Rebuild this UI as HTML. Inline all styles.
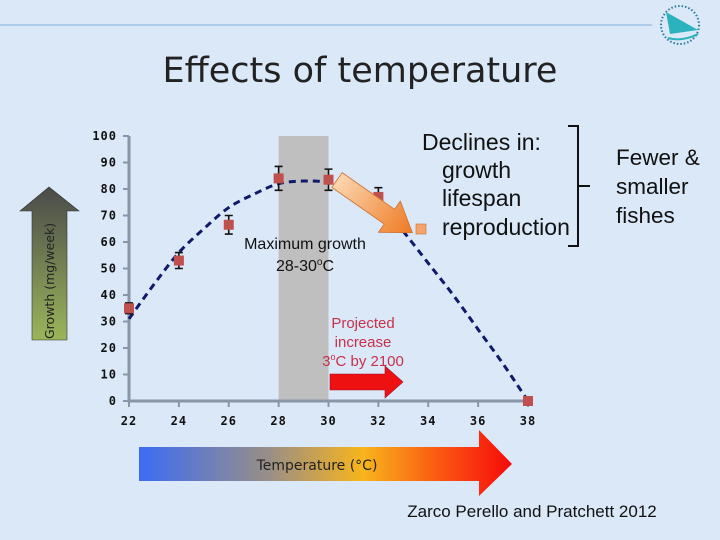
<!DOCTYPE html>
<html><head><meta charset="utf-8"><style>
body{margin:0;width:720px;height:540px;overflow:hidden;background:#dae8f8;font-family:"Liberation Sans",sans-serif}
svg{display:block}
</style></head><body>
<svg width="720" height="540" xmlns="http://www.w3.org/2000/svg">
<defs>
<linearGradient id="tg" x1="0" x2="1" y1="0" y2="0">
<stop offset="0" stop-color="#3b6cf5"/><stop offset="0.35" stop-color="#9a8f86"/><stop offset="0.6" stop-color="#f7b51c"/><stop offset="0.8" stop-color="#fb5a12"/><stop offset="1" stop-color="#f60a0a"/></linearGradient>
<linearGradient id="gg" x1="0" x2="0" y1="0" y2="1">
<stop offset="0" stop-color="#4a4a4a"/><stop offset="1" stop-color="#9bb55a"/></linearGradient>
<linearGradient id="og" x1="0" x2="1" y1="0" y2="0">
<stop offset="0" stop-color="#fcd6b0"/><stop offset="1" stop-color="#ee7a22"/></linearGradient>
</defs>
<line x1="0" y1="25" x2="652" y2="25" stroke="#9ec2e4" stroke-width="1.5"/>
<g>
<circle cx="680" cy="25" r="19" fill="none" stroke="#2a7a9a" stroke-width="2" stroke-dasharray="1.5 2"/>
<polygon points="666,12 698,30 670,34" fill="#2bb3bd"/>
<path d="M668 38 Q682 42 698 34" stroke="#2bb3bd" stroke-width="2" fill="none"/>
</g>
<text x="360" y="82" font-size="35" text-anchor="middle" fill="#222" font-family="DejaVu Sans,sans-serif">Effects of temperature</text>
<g id="plot"></g>
<g>
<polygon points="49,187 79,211 67,211 67,340 32,340 32,211 20,211" fill="url(#gg)" stroke="#333" stroke-width="0.6"/>
<text transform="translate(54,339) rotate(-90)" font-size="12.5" fill="#222" font-family="DejaVu Sans,sans-serif">Growth (mg/week)</text>
</g>
<g>
<polygon points="139,447 479,447 479,430 512,464 479,496 479,481 139,481" fill="url(#tg)"/>
<text x="317" y="470" font-size="14" text-anchor="middle" fill="#222" font-family="DejaVu Sans,sans-serif">Temperature (°C)</text>
</g>
<g font-size="23" fill="#111">
<text x="422" y="150">Declines in:</text>
<text x="442" y="178">growth</text>
<text x="442" y="206">lifespan</text>
<text x="442" y="235">reproduction</text>
</g>
<path d="M568 126 L578 126 L578 246 L568 246 M578 186 L590 186" fill="none" stroke="#111" stroke-width="2"/>
<g font-size="22.5" fill="#111">
<text x="616" y="165">Fewer &amp;</text>
<text x="616" y="194">smaller</text>
<text x="616" y="223">fishes</text>
</g>
<g font-size="16" fill="#111" text-anchor="middle">
<text x="305" y="249">Maximum growth</text>
<text x="305" y="271">28-30<tspan font-size="10" dy="-6">o</tspan><tspan dy="6">C</tspan></text>
</g>
<g font-size="15" fill="#c8304a" text-anchor="middle">
<text x="363" y="328">Projected</text>
<text x="363" y="347">increase</text>
<text x="363" y="366">3<tspan font-size="9" dy="-6">o</tspan><tspan dy="6">C by 2100</tspan></text>
</g>
<polygon points="330,374 385,374 385,366 403,382 385,398 385,390 330,390" fill="#ee1111" stroke="#a01030" stroke-width="0.6"/>
<g transform="translate(337,180) rotate(35)">
<polygon points="0,-9 64,-9 64,-19 92,0 64,19 64,9 0,9" fill="url(#og)" stroke="#d07030" stroke-width="0.8"/>
</g>
<rect x="416" y="224" width="10" height="10" fill="#f4a46a" stroke="#d07030" stroke-width="0.6"/>
<text x="532" y="517" font-size="17" text-anchor="middle" fill="#111">Zarco Perello and Pratchett 2012</text>
</svg>
<script>
const temps=[22,24,26,28,30,32,38];
const growth=[35,53,66.5,84,83.5,77,0];
const errs=[2,3,3.5,4.5,4,3.5,0];
const fitT=[22,23,24,25,26,27,28,29,30,31,32,33,34,35,36,37,38];
const fitG=[31,44,56,65,73,78,82,83,82.5,80,75,64,52,40,27,14,0];
const yTicks=[0,10,20,30,40,50,60,70,80,90,100];
const xTicks=[22,24,26,28,30,32,34,36,38];
const band=[28,30];
const NS='http://www.w3.org/2000/svg';
const X=t=>129+(t-22)*(399/16);
const Y=v=>401-v*2.65;
const g=document.getElementById('plot');
function mk(tag,attrs){const e=document.createElementNS(NS,tag);for(const k in attrs)e.setAttribute(k,attrs[k]);g.appendChild(e);return e;}
let r=mk('rect',{x:X(band[0]),y:Y(100),width:X(band[1])-X(band[0]),height:Y(0)-Y(100),fill:'#bfbfbf'});


let ax=mk('path',{d:`M${X(22)} ${Y(100)} L${X(22)} ${Y(0)} L${X(38)} ${Y(0)}`,fill:'none',stroke:'#8a96a8','stroke-width':3});


yTicks.forEach(v=>{
 mk('line',{x1:X(22)-6,x2:X(22),y1:Y(v),y2:Y(v),stroke:'#8a96a8','stroke-width':2});
 const t=mk('text',{x:X(22)-12,y:Y(v)+4,'font-size':12,'font-weight':'bold','letter-spacing':'1','text-anchor':'end',fill:'#111','font-family':'DejaVu Sans Mono,monospace'});t.textContent=v;
 
 
});
xTicks.forEach(v=>{
 mk('line',{x1:X(v),x2:X(v),y1:Y(0),y2:Y(0)+6,stroke:'#8a96a8','stroke-width':2});
 const t=mk('text',{x:X(v),y:Y(0)+24,'font-size':12,'font-weight':'bold','letter-spacing':'1','text-anchor':'middle',fill:'#111','font-family':'DejaVu Sans Mono,monospace'});t.textContent=v;
 
 
});
const P=fitT.map((t,i)=>[X(t),Y(fitG[i])]);
let d='M'+P[0][0]+' '+P[0][1];
for(let i=0;i<P.length-1;i++){
 const p0=P[Math.max(0,i-1)],p1=P[i],p2=P[i+1],p3=P[Math.min(P.length-1,i+2)];
 d+=` C${p1[0]+(p2[0]-p0[0])/6} ${p1[1]+(p2[1]-p0[1])/6} ${p2[0]-(p3[0]-p1[0])/6} ${p2[1]-(p3[1]-p1[1])/6} ${p2[0]} ${p2[1]}`;
}
let fl=mk('path',{d:d,fill:'none',stroke:'#101a6a','stroke-width':3,'stroke-dasharray':'7 5','stroke-linejoin':'round'});


temps.forEach((t,i)=>{
 if(errs[i]>0){
  const x=X(t),y1=Y(growth[i]+errs[i]),y2=Y(growth[i]-errs[i]);
  const e=mk('path',{d:`M${x} ${y1}L${x} ${y2}M${x-4} ${y1}L${x+4} ${y1}M${x-4} ${y2}L${x+4} ${y2}`,stroke:'#111','stroke-width':1.6,fill:'none'});
  
  
 }
 const p=mk('rect',{x:X(t)-5,y:Y(growth[i])-5,width:10,height:10,fill:'#c0504d'});
 
 
});
</script>
</body></html>
